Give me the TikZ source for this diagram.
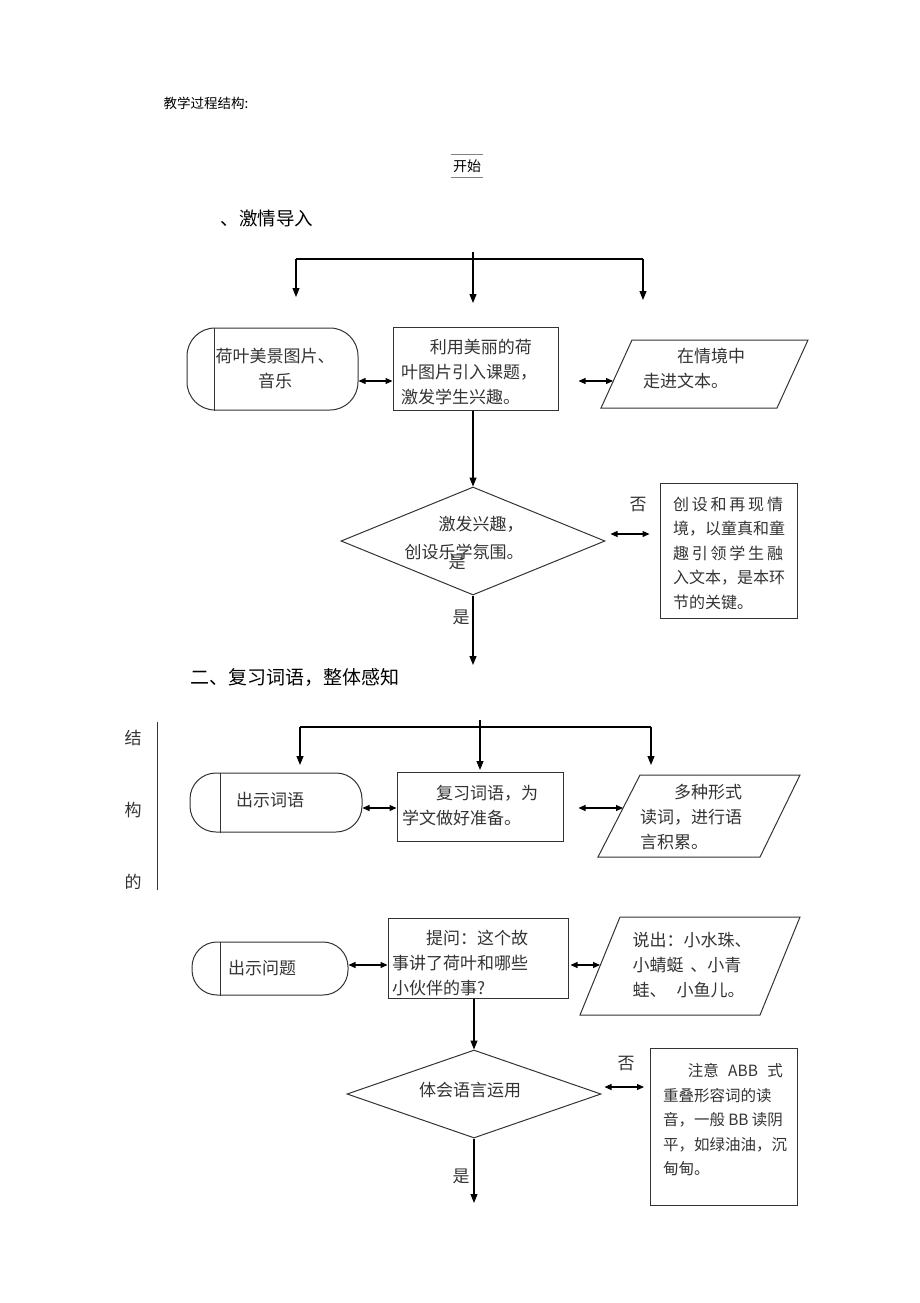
\documentclass[tikz,border=0pt]{standalone}
\usepackage{fontspec}
\setmainfont{Noto Sans CJK SC}
\usetikzlibrary{shapes.geometric,arrows.meta}
\begin{document}
\begin{tikzpicture}[x=1pt,y=-1pt,line width=1.1pt,
  arr/.style={-{Triangle[length=9pt,width=7pt]}},
  dbl/.style={{Triangle[length=7pt,width=6pt]}-{Triangle[length=7pt,width=6pt]}},
  stepbox/.style={draw=black!80,line width=1pt,inner sep=0pt},
  term/.style={draw=black!80,line width=1pt,inner sep=0pt},
  dia/.style={draw=black!80,line width=1pt,diamond,inner sep=0pt},
  outline/.style={draw=black!80,line width=1pt},
  body/.style={inner sep=0pt,align=left,text=black!80,font=\fontsize{17}{25}\selectfont},
  lab/.style={inner sep=0pt,text=black!80,font=\fontsize{17}{20}\selectfont},
  head/.style={inner sep=0pt,anchor=west}]
\useasboundingbox (0,0) rectangle (920,1303);

% headings
\node[head,font=\fontsize{13.5}{16}\selectfont] (title) at (163,103) {教学过程结构:};
\node[inner sep=0pt,minimum width=30pt,minimum height=22pt,font=\fontsize{14}{16}\selectfont] (start) at (467,166) {开始};
\draw[gray,line width=0.8pt] (start.north west) -- (start.north east);
\draw[gray,line width=0.8pt] (start.south west) -- (start.south east);
\node[head,font=\fontsize{18.5}{22}\selectfont] (sec1) at (220,218) {、激情导入};

% ---------- section 1 ----------
\coordinate (h1l) at (296,259);
\coordinate (h1r) at (643,259);
\coordinate (h1m) at (473,252);
\coordinate (a1l) at (296,297);
\coordinate (a1m) at (473,303);
\coordinate (a1r) at (643,300);
\draw (h1l) -- (h1r);
\draw[arr] (h1l) -- (a1l);
\draw[arr] (h1m) -- (a1m);
\draw[arr] (h1r) -- (a1r);

\node[term,rounded corners=28pt,minimum width=171pt,minimum height=82pt] (T1) at (272.5,369) {};
\draw[outline] ([xshift=28pt]T1.north west) -- ([xshift=28pt]T1.south west);
\node[body,align=center] (T1t) at (275,369) {荷叶美景图片、\\音乐};

\node[stepbox,minimum width=165pt,minimum height=83pt] (B1) at (475.5,369) {};
\node[body] (B1t) at (469,372) {\hspace*{1.7em}利用美丽的荷\\叶图片引入课题，\\激发学生兴趣。};

\coordinate (p1a) at (632,340);
\coordinate (p1b) at (808,340);
\coordinate (p1c) at (777,408);
\coordinate (p1d) at (601,408);
\coordinate (p1in) at (613,381);
\draw[outline] (p1a) -- (p1b) -- (p1c) -- (p1d) -- cycle;
\node[body] (P1t) at (694,369) {\hspace*{2em}在情境中\\走进文本。};

\draw[dbl] ([yshift=-12pt]T1.east) -- ([yshift=-12pt]T1.east -| B1.west);
\draw[dbl,shorten <=20pt] ([yshift=-12pt]B1.east) -- (p1in);

\node[dia,minimum width=264pt,minimum height=108pt] (D1) at (473,541) {};
\draw[arr] (D1.north |- B1.south) -- (D1.north);
\node[body,font=\fontsize{17}{28}\selectfont] (D1t) at (464,538) {\hspace*{2em}激发兴趣，\\创设乐学氛围。};
\node[lab] (yes1a) at (457,562) {是};

\node[stepbox,minimum width=137pt,minimum height=135pt] (R1) at (728.5,550.5) {};
\node[body,font=\fontsize{16}{24.5}\selectfont] (R1t) at (729,553) {\makebox[110pt][s]{创\hfill 设\hfill 和\hfill 再\hfill 现\hfill 情}\\境，以童真和童\\\makebox[110pt][s]{趣\hfill 引\hfill 领\hfill 学\hfill 生\hfill 融}\\入文本，是本环\\节的关键。};
\draw[dbl,shorten <=5pt,shorten >=10pt] ([yshift=7pt]D1.east) -- ([yshift=7pt]D1.east -| R1.west);
\node[lab] (no1) at (638,505) {否};

\coordinate (e1) at (473,665);
\draw[arr] (D1.south) -- (e1);
\node[lab] (yes1) at (461,617) {是};

\node[head,font=\fontsize{19}{22}\selectfont] (sec2) at (190,678) {二、复习词语，整体感知};

% ---------- section 2 ----------
\node[lab] (s1) at (133,738) {结};
\node[lab] (s2) at (133,810) {构};
\node[lab] (s3) at (133,882) {的};
\coordinate (vl1) at (157,722);
\coordinate (vl2) at (157,890);
\draw[line width=0.9pt,black!80] (vl1) -- (vl2);

\coordinate (h2l) at (300,727);
\coordinate (h2r) at (651,727);
\coordinate (h2m) at (480,720);
\coordinate (a2l) at (300,765);
\coordinate (a2m) at (480,770);
\coordinate (a2r) at (651,765);
\draw (h2l) -- (h2r);
\draw[arr] (h2l) -- (a2l);
\draw[arr] (h2m) -- (a2m);
\draw[arr] (h2r) -- (a2r);

\node[term,rounded corners=26pt,minimum width=172pt,minimum height=59pt] (T2) at (276,802.5) {};
\draw[outline] ([xshift=31pt]T2.north west) -- ([xshift=31pt]T2.south west);
\node[body] (T2t) at (270,800) {出示词语};

\node[stepbox,minimum width=166pt,minimum height=69pt] (B2) at (480,806.5) {};
\node[body] (B2t) at (470,806) {\hspace*{2em}复习词语，为\\学文做好准备。};

\coordinate (p2a) at (640,775);
\coordinate (p2b) at (800,775);
\coordinate (p2c) at (760,857);
\coordinate (p2d) at (598,857);
\coordinate (p2in) at (623,808);
\draw[outline] (p2a) -- (p2b) -- (p2c) -- (p2d) -- cycle;
\node[body] (P2t) at (691,817) {\hspace*{2em}多种形式\\读词，进行语\\言积累。};

\draw[dbl] ([yshift=-5.5pt]T2.east) -- ([yshift=-5.5pt]T2.east -| B2.west);
\draw[dbl,shorten <=15pt] ([yshift=-1.5pt]B2.east) -- (p2in);

% ---------- section 3 ----------
\node[term,rounded corners=25pt,minimum width=156pt,minimum height=53pt] (T3) at (270,968.5) {};
\draw[outline] ([xshift=29pt]T3.north west) -- ([xshift=29pt]T3.south west);
\node[body] (T3t) at (262,968) {出示问题};

\node[stepbox,minimum width=180pt,minimum height=80pt] (B3) at (478,958) {};
\node[body] (B3t) at (460,963) {\hspace*{2em}提问：这个故\\事讲了荷叶和哪些\\小伙伴的事?};

\coordinate (p3a) at (620,917);
\coordinate (p3b) at (800,917);
\coordinate (p3c) at (760,1015);
\coordinate (p3d) at (580,1015);
\coordinate (p3in) at (600,965);
\draw[outline] (p3a) -- (p3b) -- (p3c) -- (p3d) -- cycle;
\node[body] (P3t) at (692,965) {说出：小水珠、\\小蜻蜓\hspace{0.4em}、小青\\蛙、\hspace{0.6em}小鱼儿。};

\draw[dbl] ([yshift=3.5pt]T3.east) -- ([yshift=3.5pt]T3.east -| B3.west);
\draw[dbl,shorten <=2pt] ([yshift=-7pt]B3.east) -- (p3in);

\node[dia,minimum width=254pt,minimum height=88pt] (D2) at (474,1094) {};
\draw[arr] (D2.north |- B3.south) -- (D2.north);
\node[body] (D2t) at (470,1090) {体会语言运用};

\node[stepbox,minimum width=147pt,minimum height=157pt] (R2) at (724,1126.5) {};
\node[body,font=\fontsize{15.5}{24.5}\selectfont] (R2t) at (723,1120) {\makebox[120pt][s]{\hspace*{1.6em}注意\hfill ABB\hfill 式}\\重叠形容词的读\\\makebox[120pt][s]{音，一般\hfill BB\hfill 读阴}\\\makebox[120pt][s]{平，如绿油油，\hfill 沉}\\甸甸。};
\draw[dbl,shorten <=3pt,shorten >=6pt] ([yshift=7pt]D2.east) -- ([yshift=7pt]D2.east -| R2.west);
\node[lab] (no2) at (626,1064) {否};

\coordinate (e2) at (474,1203);
\draw[arr] (D2.south) -- (e2);
\node[lab] (yes2) at (461,1176) {是};
\end{tikzpicture}
\end{document}
